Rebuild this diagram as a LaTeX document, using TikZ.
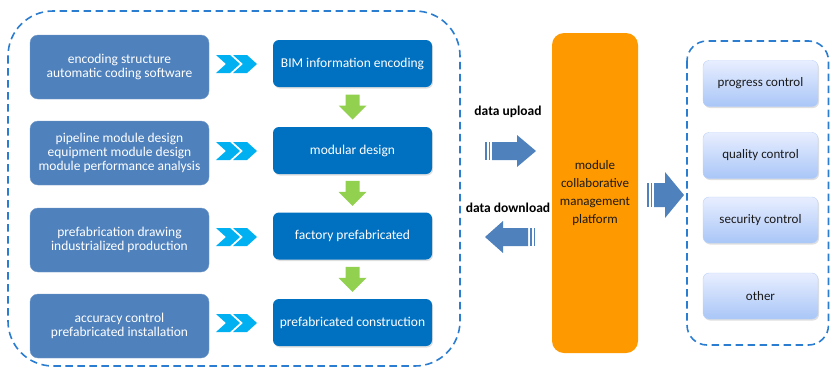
\documentclass[tikz,border=0pt]{standalone}
\usepackage{fontspec}
\setmainfont{Carlito}
\usetikzlibrary{calc,shadows}
\definecolor{leftblue}{HTML}{4F81BD}
\definecolor{midblue}{HTML}{0070C0}
\definecolor{chevcol}{HTML}{00B0F0}
\definecolor{greenar}{HTML}{92D050}
\definecolor{orangeb}{HTML}{FF9900}
\definecolor{dashcol}{HTML}{2A7DD0}
\definecolor{gradtop}{HTML}{E8EEFF}
\definecolor{gradbot}{HTML}{A9C6F7}
\definecolor{txtdark}{HTML}{1A1A1A}
\begin{document}
\begin{tikzpicture}[x=1pt,y=-1pt,
  every node/.style={font=\fontsize{13.5}{14}\selectfont, align=center, inner sep=0pt},
  leftbox/.style={fill=leftblue, draw=leftblue!80!white, rounded corners=8pt, minimum width=179pt, minimum height=64pt, text=white},
  midbox/.style={fill=midblue, rounded corners=6pt, minimum width=159pt, minimum height=47pt, text=white, drop shadow={shadow xshift=1pt, shadow yshift=-1.5pt, opacity=0.25}},
  rightbox/.style={top color=gradtop, bottom color=gradbot, draw=gradbot!80!white, rounded corners=6pt, minimum width=115pt, minimum height=46pt, text=txtdark, font=\fontsize{13}{14}\selectfont, drop shadow={shadow xshift=1pt, shadow yshift=-1.5pt, opacity=0.25}},
  platform/.style={fill=orangeb, rounded corners=12pt, minimum width=86pt, minimum height=320pt, text=txtdark, font=\fontsize{13}{18}\selectfont},
  dashframe/.style={draw=dashcol, line width=1.6pt, dash pattern=on 7.5pt off 4.5pt},
  lbl/.style={font=\bfseries\fontsize{13.5}{14}\selectfont, text=black},
  blockarrow/.style={fill=leftblue},
  greenarrow/.style={fill=greenar},
  chevron/.style={fill=chevcol}
]
\useasboundingbox (0,0) rectangle (830,370);

% dashed frames
\draw[dashframe, rounded corners=45pt] (8,11) rectangle (460,366);
\draw[dashframe, rounded corners=20pt] (687,41) rectangle (828.5,345);

% left boxes
\node[leftbox] (L1) at (119.5,67) {encoding structure\\automatic coding software};
\node[leftbox] (L2) at (119.5,153) {pipeline module design\\equipment module design\\module performance analysis};
\node[leftbox] (L3) at (119.5,240) {prefabrication drawing\\industrialized production};
\node[leftbox] (L4) at (119.5,326) {accuracy control\\prefabricated installation};

% middle boxes
\node[midbox] (M1) at (352.5,63.5) {BIM information encoding};
\node[midbox] (M2) at (352.5,150.5) {modular design};
\node[midbox] (M3) at (352.5,236) {factory prefabricated};
\node[midbox] (M4) at (352.5,322.5) {prefabricated construction};

% chevrons
\foreach \y in {64,151,237,323}{
  \foreach \dx in {0,17}{
    \fill[chevron] ($(216+\dx,\y-9)$) -- ++(14,0) -- ++(10,9) -- ++(-10,9) -- ++(-14,0) -- ++(10,-9) -- cycle;
  }
}

% green down arrows
\foreach \a/\b in {M1/M2,M2/M3,M3/M4}{
  \path let \p1=(\a.south), \p2=(\b.north), \n1={(\y1+\y2)/2} in
    coordinate (gc) at (352.5,\n1);
  \fill[greenarrow] ($(gc)+(-7,-12.5)$) -- ++(14,0) -- ++(0,11) -- ++(7,0) -- ++(-14,14) -- ++(-14,-14) -- ++(7,0) -- cycle;
}

% platform
\node[platform] (P) at (595,193) {module\\collaborative\\management\\platform};

% labels
\node[lbl] (up) at (508,112) {data upload};
\node[lbl] (down) at (508,208) {data download};

% upload arrow (right)
\fill[blockarrow] (485,142) rectangle (486.5,160);
\fill[blockarrow] (488.5,142) rectangle (490,160);
\fill[blockarrow] (492,142) -- (517,142) -- (517,135) -- (536,151) -- (517,167) -- (517,160) -- (492,160) -- cycle;

% download arrow (left)
\fill[blockarrow] (535,228) rectangle (533.5,246);
\fill[blockarrow] (531.5,228) rectangle (530,246);
\fill[blockarrow] (528,228) -- (503,228) -- (503,221) -- (485,237) -- (503,253) -- (503,246) -- (528,246) -- cycle;

% right arrow
\fill[blockarrow] (647,183) rectangle (648.5,207);
\fill[blockarrow] (650.5,183) rectangle (652,207);
\fill[blockarrow] (654,183) -- (665,183) -- (665,172) -- (684,195) -- (665,218) -- (665,207) -- (654,207) -- cycle;

% right boxes
\node[rightbox] (R1) at (760.5,83.5) {progress control};
\node[rightbox] (R2) at (760.5,155.5) {quality control};
\node[rightbox] (R3) at (760.5,220) {security control};
\node[rightbox] (R4) at (760.5,296) {other};
\end{tikzpicture}
\end{document}
